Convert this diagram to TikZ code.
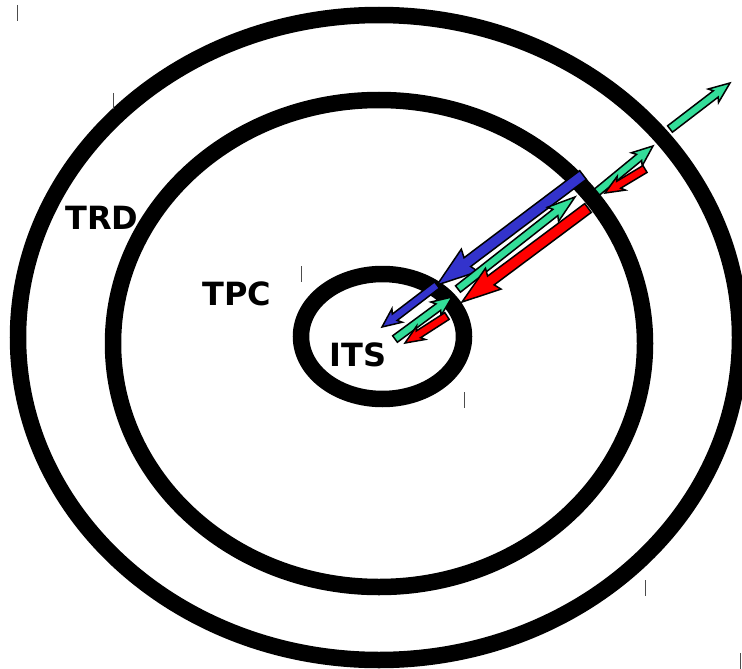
\documentclass[tikz,border=0pt]{standalone}
\usepackage{fontspec}
\newfontfamily\detfont{DejaVu Sans}
\usetikzlibrary{calc}
\definecolor{trkblue}{HTML}{3333CC}
\definecolor{trkgreen}{HTML}{33DD99}
\definecolor{trkred}{HTML}{FF0000}
% block arrow: tail, tip, colour, half shaft, half head, head length
\newcommand{\trkarrow}[6]{%
  \path ($(#2)!#6!(#1)$) coordinate (ta-c) ($(#2)!{#6+3pt}!(#1)$) coordinate (ta-b);
  \filldraw[fill=#3, draw=black, line width=1.5pt, line join=miter]
    ($(#1)!#4!90:(#2)$) -- ($(ta-c)!#4!90:(#2)$) -- ($(ta-b)!#5!90:(#2)$) -- (#2)
    -- ($(ta-b)!#5!-90:(#2)$) -- ($(ta-c)!#4!-90:(#2)$) -- ($(#1)!#4!-90:(#2)$) -- cycle;
}
\begin{document}
\begin{tikzpicture}[x=1pt, y=-1pt,
    ring/.style={line width=16.5pt, black},
    det/.style={font=\detfont\bfseries\fontsize{32}{38}\selectfont, inner sep=0pt},
    tick/.style={line width=0.8pt, black!70}]
  \useasboundingbox (0,0) rectangle (742,669);
  % --- detector layers ---
  \draw[ring] (379,337.5) ellipse [x radius=361pt, y radius=322.5pt];
  \draw[ring] (379,343.5) ellipse [x radius=266pt, y radius=243.5pt];
  \draw[ring] (382.5,336.5) ellipse [x radius=81.5pt, y radius=62.5pt];
  \node[det] (trd) at (102,218) {TRD};
  \node[det] (tpc) at (237,294) {TPC};
  \node[det] (its) at (358,355) {ITS};
  % --- corner marks ---
  \foreach \x/\y in {17/5, 113/93, 301/266, 464/392, 645/580, 740/653}
    \draw[tick] (\x,\y) -- (\x,\y+16);
  % --- track ends ---
  \coordinate (b1) at (583,175); \coordinate (b2) at (437,285); \coordinate (b3) at (382,327);
  \coordinate (g1) at (395,339); \coordinate (g2) at (452,297);
  \coordinate (g3) at (458,289); \coordinate (g4) at (575,197);
  \coordinate (g5) at (597,192); \coordinate (g6) at (653,146);
  \coordinate (g7) at (670,129); \coordinate (g8) at (730,83);
  \coordinate (r1) at (447,316); \coordinate (r2) at (405,343);
  \coordinate (r3) at (588,208); \coordinate (r4) at (462,302);
  \coordinate (r5) at (645,169); \coordinate (r6) at (605,193);
  % --- tracks ---
  \trkarrow{b1}{b2}{trkblue}{5.5pt}{14pt}{38pt}
  \trkarrow{b2}{b3}{trkblue}{4pt}{8.5pt}{16pt}
  \trkarrow{g1}{g2}{trkgreen}{4pt}{8.5pt}{17pt}
  \trkarrow{g3}{g4}{trkgreen}{4pt}{9pt}{25pt}
  \trkarrow{g5}{g6}{trkgreen}{4pt}{8.5pt}{18pt}
  \trkarrow{g7}{g8}{trkgreen}{4pt}{8.5pt}{18pt}
  \trkarrow{r1}{r2}{trkred}{4pt}{8pt}{16pt}
  \trkarrow{r3}{r4}{trkred}{5.5pt}{13pt}{36pt}
  \trkarrow{r5}{r6}{trkred}{4pt}{8pt}{16pt}
\end{tikzpicture}
\end{document}
